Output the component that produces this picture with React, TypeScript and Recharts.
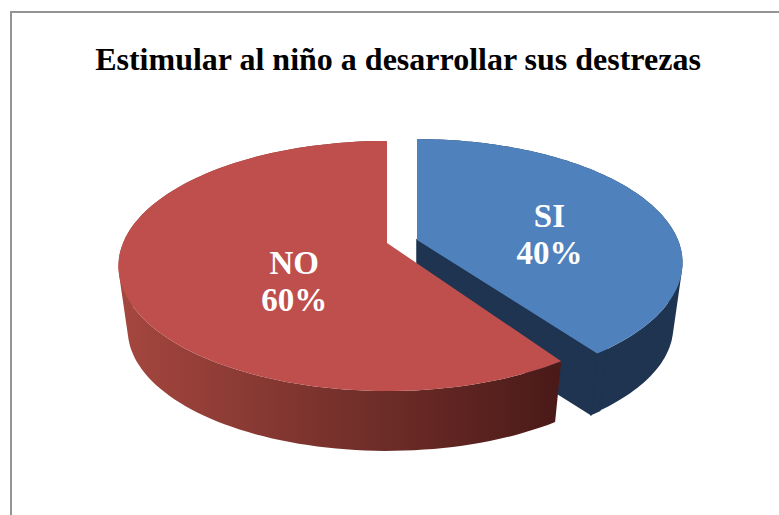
import { PieChart, Pie } from 'recharts';

const categories = ['SI', 'NO'];
const percents = [40, 60];
const sliceColors = ['#4F81BD', '#BE4F4C'];

const chartData = categories.map((name, i) => ({ name, value: percents[i], fill: sliceColors[i] }));

// per slice look of the tilted 3D pie (dx/dy = how far the slice is pulled out)
const sliceLook: Record<string, any> = {
  SI: { dx: 30, dy: -3, a: 261, warp: 0, labelR: 0.55, labelDy: 15, wallFrom: '#1E3450', wallTo: '#1E3450' },
  NO: { dx: 0, dy: 0, a: 264, warp: -1.1, labelR: 0.36, labelDy: 26, wallFrom: '#A5473F', wallTo: '#491A18' },
};

const TILT = 0.4576; // vertical squash of the disc
const PERSPECTIVE = 0.184;
const BOTTOM_SCALE = 0.965;
const BOTTOM_DROP = 65;

type Pt = { x: number; y: number };

function project(deg: number, r: number, cx: number, cy: number, look: any, bottom = false): Pt {
  const sin0 = Math.sin((deg * Math.PI) / 180);
  const t = ((deg + look.warp * (1 - sin0)) * Math.PI) / 180;
  const u = r * Math.cos(t);
  const v = -r * Math.sin(t);
  const w = 1 - PERSPECTIVE * v;
  const b = look.a * TILT;
  const s = bottom ? BOTTOM_SCALE : 1;
  return {
    x: cx + look.dx + (s * look.a * u) / w,
    y: cy + look.dy + (s * b * v) / w + (bottom ? BOTTOM_DROP : 0),
  };
}

const toPath = (pts: Pt[]) =>
  pts.map((p, i) => `${i ? 'L' : 'M'}${p.x.toFixed(1)},${p.y.toFixed(1)}`).join(' ') + ' Z';

// same winding for every quad, so the nonzero fill never cancels where the wall folds
function wallPath(top: Pt[], bot: Pt[]) {
  const quads: string[] = [];
  for (let i = 0; i < top.length - 1; i++) {
    const q = [top[i], top[i + 1], bot[i + 1], bot[i]];
    let area = 0;
    q.forEach((p, j) => {
      const n = q[(j + 1) % 4];
      area += p.x * n.y - n.x * p.y;
    });
    quads.push(toPath(area < 0 ? [...q].reverse() : q));
  }
  return quads.join(' ');
}

function Slice3D(props: any) {
  const { cx, cy, startAngle, endAngle, fill, payload } = props;
  const name = payload?.name ?? props.name;
  const look = sliceLook[name];
  const steps = 120;
  const rim: number[] = [];
  for (let i = 0; i <= steps; i++) rim.push(startAngle + ((endAngle - startAngle) * i) / steps);

  const top = rim.map(d => project(d, 1, cx, cy, look));
  const bot = rim.map(d => project(d, 1, cx, cy, look, true));
  const apex = project(0, 0, cx, cy, look);
  const apexBot = project(0, 0, cx, cy, look, true);
  const xs = top.map(p => p.x);
  const gradId = `wall-${name}`;
  const last = rim.length - 1;

  return (
    <g>
      <defs>
        <linearGradient
          id={gradId}
          gradientUnits="userSpaceOnUse"
          x1={Math.min(...xs)}
          x2={Math.max(...xs)}
          y1={0}
          y2={0}
        >
          <stop offset="0%" stopColor={look.wallFrom} />
          <stop offset="100%" stopColor={look.wallTo} />
        </linearGradient>
      </defs>
      {/* the blue slice shows its cut side, the red one hides it */}
      {name === 'SI' && (
        <path
          d={toPath([apex, top[last], bot[last], apexBot])}
          fill={look.wallTo}
          stroke={look.wallTo}
          strokeWidth={1.5}
        />
      )}
      <path d={wallPath(top, bot)} fill={`url(#${gradId})`} fillRule="nonzero" />
      {name === 'SI' && (
        <path d={toPath([top[last - 2], top[last], bot[last], bot[last - 2]])} fill={look.wallTo} stroke={look.wallTo} strokeWidth={1.5} />
      )}
      <path d={toPath([apex, ...top])} fill={fill} />
    </g>
  );
}

function SliceLabel(props: any) {
  const { cx, cy, midAngle, name, percent } = props;
  const look = sliceLook[name];
  const p = project(midAngle, look.labelR, cx, cy, look);
  const y = p.y + look.labelDy;
  return (
    <text
      x={p.x}
      y={y}
      textAnchor="middle"
      fill="#ffffff"
      fontFamily="'Liberation Serif', serif"
      fontWeight="bold"
      fontSize={33}
    >
      <tspan x={p.x} dy={-8}>{name}</tspan>
      <tspan x={p.x} dy={37}>{`${Math.round(percent * 100)}%`}</tspan>
    </text>
  );
}

export default function App() {
  return (
    <div style={{ position: 'absolute', left: 0, top: 0, width: 779, height: 515, overflow: 'hidden', background: '#fff' }}>
      <div
        style={{
          position: 'absolute',
          left: 10,
          top: 11,
          width: 780,
          height: 510,
          borderLeft: '2px solid #949494',
          borderTop: '2px solid #949494',
        }}
      />
      <div style={{ position: 'absolute', left: 0, top: 0 }}>
        <PieChart width={779} height={515} margin={{ top: 0, right: 0, bottom: 0, left: 0 }}>
          <text
            x={398}
            y={70}
            textAnchor="middle"
            fill="#000000"
            fontFamily="'Liberation Serif', serif"
            fontWeight="bold"
            fontSize={32}
          >
            Estimular al niño a desarrollar sus destrezas
          </text>
          <Pie
            data={chartData}
            dataKey="value"
            nameKey="name"
            cx={387}
            cy={243}
            outerRadius={264}
            startAngle={90}
            endAngle={-270}
            stroke="none"
            shape={Slice3D}
            label={SliceLabel}
            labelLine={false}
            isAnimationActive={false}
          />
        </PieChart>
      </div>
    </div>
  );
}
